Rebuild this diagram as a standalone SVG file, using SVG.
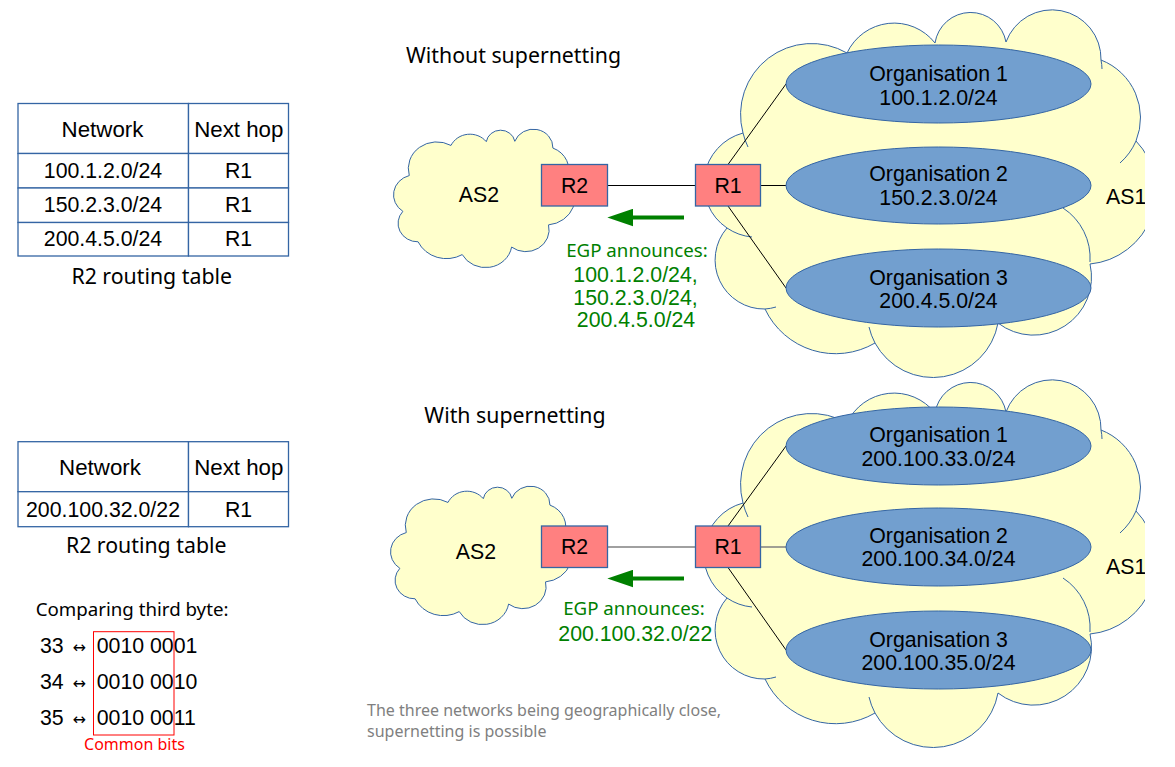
<svg xmlns="http://www.w3.org/2000/svg" xmlns:xlink="http://www.w3.org/1999/xlink" width="1175" height="767" viewBox="0 0 1175 767">
<style>
.cloud{fill:#ffffcc;stroke:#3465a4;stroke-width:1}
.tick{fill:none;stroke:#3465a4;stroke-width:1}
.org{fill:#729fcf;stroke:#3465a4;stroke-width:1}
.router{fill:#ff8080;stroke:#3465a4;stroke-width:1.3}
.cell{fill:#fff;stroke:#3465a4;stroke-width:1.3}
.t{font-family:"Liberation Sans",Arial,sans-serif;font-size:21.3px;fill:#000}
.h{font-size:22.3px}
.n{font-family:"Noto Sans","Open Sans",sans-serif}
.s19{font-size:18.7px}
.s16{font-size:16px}
.mid{text-anchor:middle}
.green{fill:#008000}
.gray{fill:#808080}
.red{fill:#ff0000}
.link{stroke:#000;stroke-width:1;fill:none}
.glink{stroke:#808080;stroke-width:1.5;fill:none}
.garrow{stroke:#008000;stroke-width:4;fill:none}
</style>
<defs>
<clipPath id="clipR"><rect x="0" y="0" width="1145" height="767"/></clipPath>
<path id="cloudShape" vector-effect="non-scaling-stroke" d="M743,133 A71,71 0 0 1 847,53 A52,52 0 0 1 935,43 A36,36 0 0 1 1006,42 A49,49 0 0 1 1101,60 A62,62 0 0 1 1136,141 A73,73 0 0 1 1090,264 A58,58 0 0 1 998,323 A66,66 0 0 1 875,343 A78,78 0 0 1 765,309 A49,49 0 0 1 727,228 A53,53 0 0 1 743,133 Z"/>
<path id="cloudTicks" vector-effect="non-scaling-stroke" d="M1136,141 A62,62 0 0 1 1120,163 M1063,208 A60,60 0 0 1 1090,262 M875,343 A66,66 0 0 1 869,327 M765,309 A49,49 0 0 0 776,307 M727,228 A53,53 0 0 0 752,237 M743,133 A71,71 0 0 0 748,147 M1101,60 A49,49 0 0 1 1102,69"/>
<marker id="ghead" markerUnits="userSpaceOnUse" markerWidth="26" markerHeight="18" viewBox="0 0 25 17" refX="8" refY="8.5" orient="auto">
<path d="M0,0 L25,8.5 L0,17 Z" fill="#008000"/>
</marker>
</defs>

<rect x="0" y="0" width="1175" height="767" fill="#fff"/>

<!-- Titles -->
<text class="t n mid" x="513.5" y="62.5">Without supernetting</text>
<text class="t n mid" x="515" y="423">With supernetting</text>

<!-- Top section -->
<g id="as1-top" clip-path="url(#clipR)">
<use xlink:href="#cloudShape" class="cloud"/>
<use xlink:href="#cloudTicks" class="tick"/>
<text class="t" x="1106" y="204">AS1</text>
</g>
<g id="as2-top">
<use xlink:href="#cloudShape" class="cloud" transform="matrix(0.4013 0 0 0.3764 111.1 125.5)"/>
<text class="t" x="479" y="201.5" text-anchor="middle">AS2</text>
</g>

<g id="as1-bottom" clip-path="url(#clipR)">
<use xlink:href="#cloudShape" class="cloud" transform="translate(0 370)"/>
<use xlink:href="#cloudTicks" class="tick" transform="translate(0 370)"/>
<text class="t" x="1106" y="573.5">AS1</text>
</g>
<g id="as2-bottom">
<use xlink:href="#cloudShape" class="cloud" transform="matrix(0.4013 0 0 0.3764 108.1 482.5)"/>
<text class="t" x="476" y="558.5" text-anchor="middle">AS2</text>
</g>

<g id="connectors">
<line class="link" x1="607.5" y1="185.5" x2="695.5" y2="185.5"/>
<line class="link" x1="728" y1="164.5" x2="786" y2="84"/>
<line class="link" x1="760.5" y1="185.5" x2="786" y2="185.5"/>
<line class="link" x1="728" y1="206" x2="786" y2="288"/>
<line class="garrow" x1="684" y1="217.5" x2="625" y2="217.5" marker-end="url(#ghead)"/>
<line class="glink" x1="607.5" y1="547" x2="695.5" y2="547"/>
<line class="link" x1="728" y1="526" x2="786" y2="446"/>
<line class="glink" x1="760.5" y1="547" x2="786" y2="547"/>
<line class="link" x1="728" y1="567.5" x2="786" y2="650"/>
<line class="garrow" x1="684" y1="578.5" x2="625" y2="578.5" marker-end="url(#ghead)"/>
</g>

<g id="org1-top">
<ellipse class="org" cx="938.5" cy="84" rx="152.5" ry="39"/>
<text class="t mid" x="938.5" y="80.5">Organisation 1</text>
<text class="t mid" x="938.5" y="104.5">100.1.2.0/24</text>
</g>
<g id="org2-top">
<ellipse class="org" cx="938.5" cy="185.5" rx="152.5" ry="38.5"/>
<text class="t mid" x="938.5" y="181">Organisation 2</text>
<text class="t mid" x="938.5" y="205">150.2.3.0/24</text>
</g>
<g id="org3-top">
<ellipse class="org" cx="938.5" cy="288" rx="152.5" ry="39"/>
<text class="t mid" x="938.5" y="284.5">Organisation 3</text>
<text class="t mid" x="938.5" y="307.5">200.4.5.0/24</text>
</g>

<g id="r2-top">
<rect class="router" x="541.5" y="164.5" width="66" height="41.5"/>
<text class="t mid" x="574.5" y="192.7">R2</text>
</g>
<g id="r1-top">
<rect class="router" x="695.5" y="164.5" width="65" height="41.5"/>
<text class="t mid" x="728" y="192.7">R1</text>
</g>

<g id="egp-top">
<text class="t n s19 mid green" x="637" y="256.7">EGP announces:</text>
<text class="t mid green" x="635.5" y="281.7">100.1.2.0/24,</text>
<text class="t mid green" x="635.5" y="305">150.2.3.0/24,</text>
<text class="t mid green" x="636" y="327">200.4.5.0/24</text>
</g>

<!-- Bottom section -->
<g id="org1-bottom">
<ellipse class="org" cx="938.5" cy="446" rx="152.5" ry="39"/>
<text class="t mid" x="938.5" y="442">Organisation 1</text>
<text class="t mid" x="938.5" y="465.5">200.100.33.0/24</text>
</g>
<g id="org2-bottom">
<ellipse class="org" cx="938.5" cy="547" rx="152.5" ry="39"/>
<text class="t mid" x="938.5" y="543">Organisation 2</text>
<text class="t mid" x="938.5" y="566">200.100.34.0/24</text>
</g>
<g id="org3-bottom">
<ellipse class="org" cx="938.5" cy="650" rx="152.5" ry="39"/>
<text class="t mid" x="938.5" y="647">Organisation 3</text>
<text class="t mid" x="938.5" y="669.5">200.100.35.0/24</text>
</g>

<g id="r2-bottom">
<rect class="router" x="541.5" y="526" width="66" height="41.5"/>
<text class="t mid" x="574.5" y="554">R2</text>
</g>
<g id="r1-bottom">
<rect class="router" x="695.5" y="526" width="65" height="41.5"/>
<text class="t mid" x="728" y="554">R1</text>
</g>

<g id="egp-bottom">
<text class="t n s19 mid green" x="634" y="615">EGP announces:</text>
<text class="t mid green" x="635.3" y="641">200.100.32.0/22</text>
</g>

<g id="note">
<text class="t n s16 gray" x="367" y="716">The three networks being geographically close,</text>
<text class="t n s16 gray" x="367" y="737">supernetting is possible</text>
</g>

<!-- Routing table 1 -->
<g id="table-top">
<rect class="cell" x="18" y="103.5" width="170.5" height="50"/>
<rect class="cell" x="188.5" y="103.5" width="100" height="50"/>
<rect class="cell" x="18" y="153.5" width="170.5" height="34.5"/>
<rect class="cell" x="188.5" y="153.5" width="100" height="34.5"/>
<rect class="cell" x="18" y="188" width="170.5" height="34.5"/>
<rect class="cell" x="188.5" y="188" width="100" height="34.5"/>
<rect class="cell" x="18" y="222.5" width="170.5" height="33.5"/>
<rect class="cell" x="188.5" y="222.5" width="100" height="33.5"/>
<text class="t h mid" x="102.5" y="137">Network</text>
<text class="t h mid" x="238.8" y="137">Next hop</text>
<text class="t mid" x="103" y="178.3">100.1.2.0/24</text>
<text class="t mid" x="238.5" y="178.3">R1</text>
<text class="t mid" x="103" y="211.5">150.2.3.0/24</text>
<text class="t mid" x="238.5" y="211.5">R1</text>
<text class="t mid" x="103" y="246">200.4.5.0/24</text>
<text class="t mid" x="238.5" y="246">R1</text>
<text class="t n mid" x="151.7" y="284">R2 routing table</text>
</g>

<!-- Routing table 2 -->
<g id="table-bottom">
<rect class="cell" x="18" y="441.7" width="170.5" height="50"/>
<rect class="cell" x="188.5" y="441.7" width="100" height="50"/>
<rect class="cell" x="18" y="491.7" width="170.5" height="35"/>
<rect class="cell" x="188.5" y="491.7" width="100" height="35"/>
<text class="t h mid" x="100" y="475.3">Network</text>
<text class="t h mid" x="238.8" y="475.3">Next hop</text>
<text class="t mid" x="103" y="517.3">200.100.32.0/22</text>
<text class="t mid" x="238.5" y="517.3">R1</text>
<text class="t n mid" x="146.2" y="553">R2 routing table</text>
</g>

<!-- Bit comparison -->
<g id="bits">
<text class="t n s19" x="35.7" y="615.5">Comparing third byte:</text>
<text class="t" x="40" y="653.3">33</text>
<text class="t" x="40" y="689.3">34</text>
<text class="t" x="40" y="725">35</text>
<text class="t mid" x="79.3" y="653.3" style="font-family:'DejaVu Sans',sans-serif;font-size:16px">↔</text>
<text class="t mid" x="79.3" y="689.3" style="font-family:'DejaVu Sans',sans-serif;font-size:16px">↔</text>
<text class="t mid" x="79.3" y="725" style="font-family:'DejaVu Sans',sans-serif;font-size:16px">↔</text>
<text class="t" x="96.7" y="653.3">0010 0001</text>
<text class="t" x="96.7" y="689.3">0010 0010</text>
<text class="t" x="96.7" y="725">0010 0011</text>
<rect x="93.5" y="631.7" width="80.5" height="103.3" fill="none" stroke="#ff0000" stroke-width="1"/>
<text class="t n s16 mid red" x="134.5" y="750">Common bits</text>
</g>
</svg>
